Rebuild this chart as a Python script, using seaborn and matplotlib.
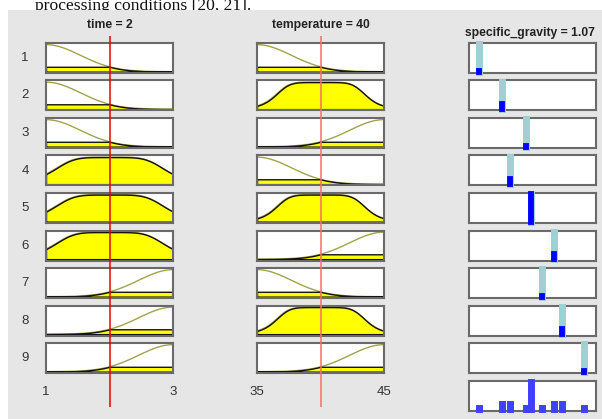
import numpy as np
import matplotlib
matplotlib.use("Agg")
import matplotlib.pyplot as plt
from matplotlib.patches import Rectangle
import seaborn as sns

# ---- model data -------------------------------------------------------
rule_ids = [1, 2, 3, 4, 5, 6, 7, 8, 9]

time_range = [1, 3]
time_input = 2
# membership-function label of the "time" antecedent for each rule
time_terms = ["low", "low", "low", "mid", "mid", "mid", "high", "high", "high"]

temp_range = [35, 45]
temp_input = 40
temp_terms = ["low", "mid", "high", "low", "mid", "high", "low", "mid", "high"]

# gaussian sigma for the shoulder terms, generalized-bell (a, b) for the middle term
time_sigma = 0.54
time_bell = [0.9, 2.5]
temp_sigma = 2.7
temp_bell = [3.6, 3.0]

# Sugeno output constants and rule firing strengths
sg_range = [1.0, 1.14]
sg_consts = [1.011, 1.036, 1.063, 1.045, 1.068, 1.094, 1.080, 1.103, 1.127]
rule_weights = [0.03, 0.18, 0.03, 0.18, 1.0, 0.18, 0.03, 0.18, 0.03]

tick_labels_time = ["1", "3"]
tick_labels_temp = ["35", "45"]


def term_curve(x, term, lo, hi, sigma, bell):
    if term == "low":
        return np.exp(-((x - lo) ** 2) / (2 * sigma ** 2))
    if term == "high":
        return np.exp(-((x - hi) ** 2) / (2 * sigma ** 2))
    a, b = bell
    c = (lo + hi) / 2
    return 1.0 / (1.0 + np.abs((x - c) / a) ** (2 * b))


# ---- figure -----------------------------------------------------------
W, H = 602, 419
sns.set_theme(style="white")
plt.rcParams["font.family"] = ["Liberation Sans", "DejaVu Sans"]

fig = plt.figure(figsize=(W / 100, H / 100), dpi=100)
fig.patch.set_facecolor("white")

BG = "#e6e6e6"
EDGE = "#6a6a6a"
YELLOW = "#ffff00"
OLIVE = "#a3a34a"
LIGHT = "#9fd0d2"
BLUE = "#0000ff"

# caption line above the panel (partly hidden by it)
fig.text(35 / W, 1 - 10.5 / H, "processing conditions [20, 21].",
         family="Liberation Serif", fontsize=12.6, color="#111111",
         ha="left", va="baseline", zorder=-3)
fig.patches.append(Rectangle((8 / W, 0), 1 - 8 / W, 1 - 10 / H,
                             transform=fig.transFigure, facecolor=BG,
                             edgecolor="none", zorder=-2))


def add_axes_px(x0, y0, x1, y1, **kw):
    return fig.add_axes([x0 / W, 1 - y1 / H, (x1 - x0) / W, (y1 - y0) / H], **kw)


def style_box(ax):
    ax.set_facecolor("white")
    ax.set_xticks([])
    ax.set_yticks([])
    for s in ax.spines.values():
        s.set_visible(True)
        s.set_color(EDGE)
        s.set_linewidth(1.5)


cols = [(46, 173), (257, 384), (469, 596)]
row_top0, row_pitch, row_h = 43, 37.5, 30

inputs = [
    (time_range, time_input, time_terms, time_sigma, time_bell, "time"),
    (temp_range, temp_input, temp_terms, temp_sigma, temp_bell, "temperature"),
]

for ci, (rng, xin, terms, sigma, bell, name) in enumerate(inputs):
    x0, x1 = cols[ci]
    lo, hi = rng
    xs = np.linspace(lo, hi, 300)
    for r, term in enumerate(terms):
        top = row_top0 + r * row_pitch
        ax = add_axes_px(x0, top, x1, top + row_h)
        style_box(ax)
        mf = term_curve(xs, term, lo, hi, sigma, bell)
        mu = float(term_curve(np.array([xin]), term, lo, hi, sigma, bell)[0])
        sns.lineplot(x=xs, y=mf, ax=ax, color=OLIVE, linewidth=1.0, zorder=1)
        ax.fill_between(xs, 0, np.minimum(mf, mu), facecolor=YELLOW,
                        edgecolor="#111111", linewidth=1.0, zorder=2)
        ax.set_xlim(lo, hi)
        ax.set_ylim(-0.05, 1.06)
        ax.set_xlabel("")
        ax.set_ylabel("")

# output column: one bar per rule plus the aggregate
ox0, ox1 = cols[2]
for r, (c, w) in enumerate(zip(sg_consts, rule_weights)):
    top = row_top0 + r * row_pitch
    ax = add_axes_px(ox0, top, ox1, top + row_h)
    style_box(ax)
    ax.vlines(c, 0, 1, color=LIGHT, linewidth=5.0, capstyle="projecting",
              clip_on=False, zorder=3)
    ax.vlines(c, 0, w, color=BLUE, linewidth=4.2, capstyle="projecting",
              clip_on=False, zorder=4)
    ax.set_xlim(*sg_range)
    ax.set_ylim(-0.05, 1.05)

top = row_top0 + len(rule_ids) * row_pitch
agg = add_axes_px(ox0, top, ox1, top + row_h)
style_box(agg)
agg.vlines(sg_consts, 0, rule_weights, color="#4040ff", linewidth=5.0,
           capstyle="projecting", clip_on=False, zorder=4)
agg.set_xlim(*sg_range)
agg.set_ylim(-0.05, 1.05)

sg_out = float(np.dot(sg_consts, rule_weights) / np.sum(rule_weights))

# row numbers
for r, rid in enumerate(rule_ids):
    yc = row_top0 + r * row_pitch + row_h / 2
    fig.text(25 / W, 1 - yc / H, str(rid), ha="center", va="center",
             fontsize=9.5, color="#333333")

# column titles
title_kw = dict(ha="center", va="center", fontsize=8.7, fontweight="bold",
                color="#222222")
fig.text((cols[0][0] + cols[0][1]) / 2 / W, 1 - 25 / H,
         f"time = {time_input:g}", **title_kw)
fig.text((cols[1][0] + cols[1][1]) / 2 / W, 1 - 25 / H,
         f"temperature = {temp_input:g}", **title_kw)
fig.text(530 / W, 1 - 33 / H, f"specific_gravity = {sg_out:.2f}", **title_kw)

# input cursors and range labels
line_colors = ["#ee0000", "#ff6b6b"]
tick_sets = [tick_labels_time, tick_labels_temp]
for ci, (rng, xin, *_rest) in enumerate(inputs):
    x0, x1 = cols[ci]
    ov = add_axes_px(x0, 36, x1, 407)
    ov.patch.set_alpha(0)
    ov.set_axis_off()
    ov.set_xlim(*rng)
    ov.set_ylim(0, 1)
    ov.axvline(xin, color=line_colors[ci], linewidth=1.1)
    for xv, lab in zip(rng, tick_sets[ci]):
        ov.text(xv, 0.04, lab, ha="center", va="center", fontsize=9.5,
                color="#333333", clip_on=False)

fig.savefig("out.png", dpi=100, facecolor="white")
